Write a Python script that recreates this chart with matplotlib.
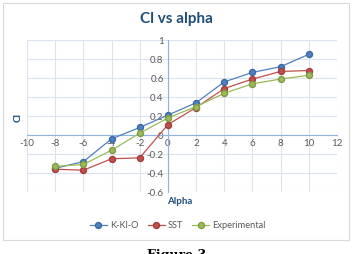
import numpy as np
import matplotlib
matplotlib.use("Agg")
from matplotlib import pyplot as plt
from matplotlib.patches import Rectangle

alpha = [-8, -6, -4, -2, 0, 2, 4, 6, 8, 10]
cl_kklo = [-0.35, -0.28, -0.04, 0.08, 0.21, 0.34, 0.56, 0.66, 0.72, 0.85]
cl_sst = [-0.36, -0.37, -0.25, -0.24, 0.11, 0.29, 0.49, 0.59, 0.67, 0.68]
cl_exp = [-0.33, -0.31, -0.16, 0.02, 0.18, 0.30, 0.44, 0.54, 0.59, 0.63]

plt.rcParams["font.family"] = ["Lato", "DejaVu Sans"]
plt.rcParams["axes.unicode_minus"] = False

fig = plt.figure(figsize=(3.53, 2.54), dpi=100)
ax = fig.add_axes([0.0765, 0.244, 0.878, 0.598])

grid_col = "#dbe3ee"
axis_col = "#8db3e2"
txt_col = "#595959"
title_col = "#1f4e79"

ax.plot(alpha, cl_kklo, "-o", color="#4f81bd", mec="#3a6aa3", ms=4.3, lw=0.9, label="K-Kl-O", zorder=5)
ax.plot(alpha, cl_sst, "-o", color="#c0504d", mec="#a33c39", ms=4.3, lw=0.9, label="SST", zorder=5)
ax.plot(alpha, cl_exp, "-o", color="#9bbb59", mec="#7f9c43", ms=4.3, lw=0.9, label="Experimental", zorder=5)

ax.set_xlim(-10, 12)
ax.set_ylim(-0.6, 1.0)
ax.set_xticks(np.arange(-10, 13, 2))
ax.set_yticks(np.arange(-0.6, 1.01, 0.2))
ax.set_yticklabels(["-0.6", "-0.4", "-0.2", "0", "0.2", "0.4", "0.6", "0.8", "1"])
ax.grid(True, color=grid_col, lw=0.8)
ax.set_axisbelow(True)

ax.spines["left"].set_position(("data", 0))
ax.spines["bottom"].set_position(("data", 0))
ax.spines["left"].set_color(axis_col)
ax.spines["bottom"].set_color(axis_col)
ax.spines["top"].set_visible(False)
ax.spines["right"].set_visible(False)
ax.tick_params(length=0, labelsize=7, colors=txt_col, pad=3)

fig.text(0.5, 1 - 19 / 254, "Cl vs alpha", ha="center", va="center",
         fontsize=11, fontweight="bold", color=title_col)
fig.text(18 / 353, 1 - 117 / 254, "Cl", ha="center", va="center", rotation=90,
         fontsize=7, fontweight="bold", color=title_col)
fig.text(180 / 353, 1 - 201 / 254, "Alpha", ha="center", va="center",
         fontsize=7, fontweight="bold", color=title_col)

fig.legend(loc="center", bbox_to_anchor=(178 / 353, 1 - 226 / 254), ncol=3,
           frameon=False, fontsize=6.7, labelcolor=txt_col, handlelength=1.8,
           columnspacing=1.0, handletextpad=0.35)

fig.patches.append(Rectangle((3 / 353, 1 - 240 / 254), 346 / 353, 237 / 254,
                             transform=fig.transFigure, fill=False,
                             edgecolor="#d9d9d9", lw=0.8))
fig.text(0.5, 1 - 249 / 254, "Figure 3", ha="center", va="top",
         fontsize=9, fontweight="bold", family="DejaVu Serif", color="black")

fig.savefig("out.png", dpi=100)
